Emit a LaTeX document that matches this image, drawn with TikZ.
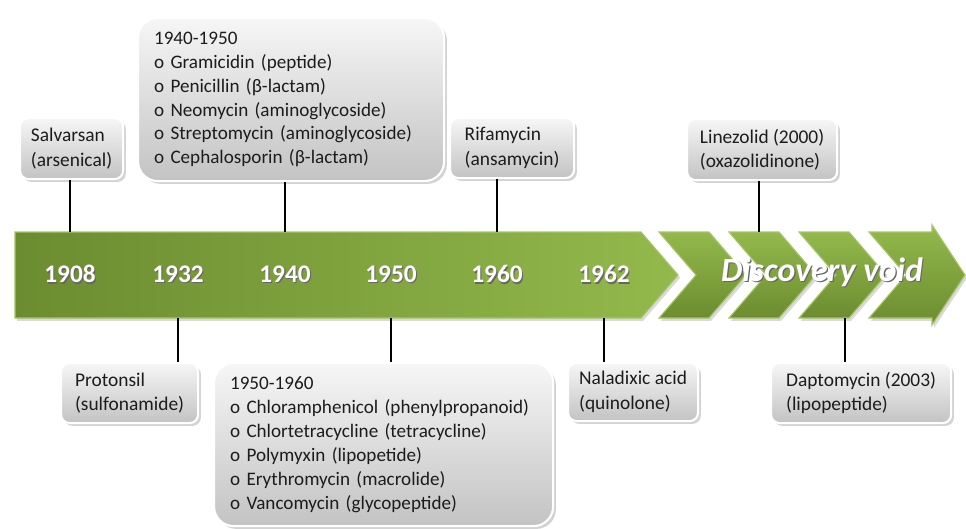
\documentclass[tikz,border=0pt]{standalone}
\usepackage{fontspec}
\setmainfont{Carlito}
\usepackage{xcolor}
\usepackage{tikz}
\usetikzlibrary{shadows}
\definecolor{arrowdark}{HTML}{6C8C30}
\definecolor{arrowlight}{HTML}{93B94C}
\definecolor{arrowedge}{HTML}{A6C567}
\definecolor{boxtop}{HTML}{F6F6F6}
\definecolor{boxbottom}{HTML}{C3C3C3}
\definecolor{ink}{HTML}{1C1C1C}
\newcommand{\embossed}[1]{\makebox[0pt][l]{\hspace{0.8pt}\raisebox{-1pt}{\color{black!60}#1}}#1}
\tikzset{
    timeline/.style={left color=arrowdark, right color=arrowlight, draw=arrowedge, line width=0.8pt, drop shadow={shadow xshift=1.5pt, shadow yshift=-2pt, opacity=0.3}},
    chevron/.style={top color=arrowlight, bottom color=arrowdark, draw=arrowedge, line width=0.8pt, drop shadow={shadow xshift=1.5pt, shadow yshift=-2pt, opacity=0.3}},
    year/.style={text=white, font=\fontsize{18}{20}\selectfont\bfseries},
    void/.style={text=white, font=\fontsize{24}{28}\selectfont\bfseries\itshape},
    infobox/.style={anchor=north west, align=left, rounded corners=6pt, top color=boxtop, bottom color=boxbottom, draw=white, line width=1.5pt, text=ink, font=\fontsize{13.8}{17.5}\selectfont, inner xsep=0.25cm, inner ysep=0pt, drop shadow={shadow xshift=2pt, shadow yshift=-2pt, opacity=0.35}},
    bigbox/.style={infobox, rounded corners=14pt, font=\fontsize{13.6}{17}\selectfont},
    stem/.style={draw=black, line width=1.4pt}
}

\begin{document}
\begin{tikzpicture}[x=0.025cm, y=-0.025cm]
    \useasboundingbox (0,0) rectangle (966,528);
    % green timeline and the chevrons after it
    \path[timeline] (15,232) -- (641,232) -- (678,275) -- (641,318) -- (15,318) -- cycle;
    \path[chevron] (659,232) -- (709,232) -- (746,275) -- (709,318) -- (659,318) -- (696,275) -- cycle;
    \path[chevron] (729,232) -- (779,232) -- (816,275) -- (779,318) -- (729,318) -- (766,275) -- cycle;
    \path[chevron] (799,232) -- (849,232) -- (886,275) -- (849,318) -- (799,318) -- (836,275) -- cycle;
    \path[chevron] (869,232) -- (932,232) -- (932,225) -- (965,275) -- (932,325) -- (932,318) -- (869,318) -- (906,275) -- cycle;
    \coordinate (top) at (0,232);
    \coordinate (bottom) at (0,318);
    \coordinate (c2000) at (759,232);
    \coordinate (c2003) at (845,318);

    \node[year] (y1908) at (70,275) {\embossed{1908}};
    \node[year] (y1932) at (178,275) {\embossed{1932}};
    \node[year] (y1940) at (285,275) {\embossed{1940}};
    \node[year] (y1950) at (391,275) {\embossed{1950}};
    \node[year] (y1960) at (497,275) {\embossed{1960}};
    \node[year] (y1962) at (604,275) {\embossed{1962}};
    \node[void] (void) at (822,273) {\embossed{Discovery void}};

    % boxes above
    \node[infobox, minimum width=2.575cm, minimum height=1.525cm] (salvarsan) at (19,117) {Salvarsan\\(arsenical)};
    \node[bigbox, inner xsep=0.4cm, text width=6.85cm, minimum height=4.075cm] (b1940) at (137,17) {1940-1950\\o Gramicidin (peptide)\\o Penicillin (β-lactam)\\o Neomycin (aminoglycoside)\\o Streptomycin (aminoglycoside)\\o Cephalosporin (β-lactam)};
    \node[infobox, minimum width=3.1cm, minimum height=1.5cm] (rifamycin) at (449,117) {Rifamycin\\(ansamycin)};
    \node[infobox, minimum width=3.75cm, minimum height=1.525cm] (linezolid) at (686,118) {Linezolid (2000)\\(oxazolidinone)};

    % boxes below
    \node[infobox, minimum width=3.425cm, minimum height=1.5cm] (protonsil) at (60,362) {Protonsil\\(sulfonamide)};
    \node[bigbox, inner xsep=0.4cm, text width=7.675cm, minimum height=4.075cm] (b1950) at (213,362) {1950-1960\\o Chloramphenicol (phenylpropanoid)\\o Chlortetracycline (tetracycline)\\o Polymyxin (lipopetide)\\o Erythromycin (macrolide)\\o Vancomycin (glycopeptide)};
    \node[infobox, minimum width=3.25cm, minimum height=1.45cm] (naladixic) at (567,362) {Naladixic acid\\(quinolone)};
    \node[infobox, minimum width=4.5cm, minimum height=1.5cm] (daptomycin) at (770,362) {Daptomycin (2003)\\(lipopeptide)};

    \draw[stem] (salvarsan.south -| y1908) -- (top -| y1908);
    \draw[stem] (b1940.south -| y1940) -- (top -| y1940);
    \draw[stem] (rifamycin.south -| y1960) -- (top -| y1960);
    \draw[stem] (linezolid.south -| c2000) -- (c2000);
    \draw[stem] (bottom -| y1932) -- (protonsil.north -| y1932);
    \draw[stem] (bottom -| y1950) -- (b1950.north -| y1950);
    \draw[stem] (bottom -| y1962) -- (naladixic.north -| y1962);
    \draw[stem] (c2003) -- (daptomycin.north -| c2003);
\end{tikzpicture}
\end{document}
